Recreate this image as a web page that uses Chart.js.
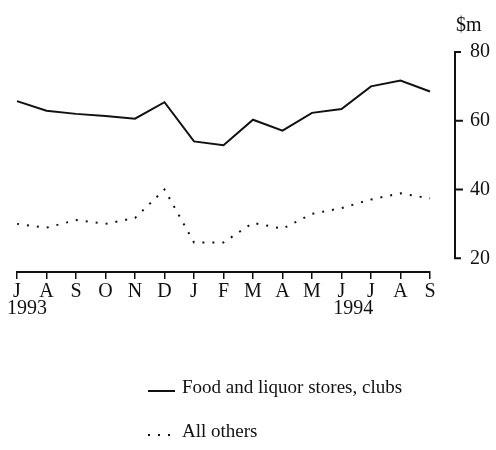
<!DOCTYPE html>
<html>
<head>
<meta charset="utf-8">
<script src="https://cdn.jsdelivr.net/npm/chart.js@4/dist/chart.umd.min.js"></script>
<style>
  html, body { margin: 0; background: #fff; }
  #wrap { width: 496px; height: 450px; position: relative; }
</style>
</head>
<body>
<div id="wrap"><canvas id="c"></canvas></div>
<script>
// Monthly sales, Jul 1993 - Sep 1994 ($m)
const MONTHS = ["J", "A", "S", "O", "N", "D", "J", "F", "M", "A", "M", "J", "J", "A", "S"];
const FOOD = [65.7, 62.9, 62.0, 61.4, 60.6, 65.4, 54.0, 52.9, 60.3, 57.1, 62.3, 63.4, 70.0, 71.7, 68.5];
const OTHERS = [30.0, 28.9, 31.1, 30.0, 31.7, 40.0, 24.6, 24.6, 30.3, 28.6, 32.9, 34.6, 37.1, 38.9, 37.4];
const Y_TICKS = [20, 40, 60, 80];
const YEARS = ["1993", "1994"];
const UNIT = "$m";

const SERIF = "'Liberation Serif', 'DejaVu Serif', serif";
const INK = "#111";

// right-hand bracket axis, year labels, unit and the stacked legend
const extras = {
  id: "extras",
  afterDraw(chart) {
    const g = chart.ctx, xs = chart.scales.x, ys = chart.scales.y;
    const ax = chart.chartArea.right + 25;
    const top = ys.getPixelForValue(80), bot = ys.getPixelForValue(20);
    g.save();
    g.strokeStyle = INK; g.lineWidth = 2; g.lineCap = "butt";
    g.beginPath();
    g.moveTo(ax + 6, top); g.lineTo(ax, top); g.lineTo(ax, bot); g.lineTo(ax + 6, bot);
    for (const v of [40, 60]) {
      const p = ys.getPixelForValue(v);
      g.moveTo(ax, p); g.lineTo(ax + 8, p);
    }
    g.stroke();

    g.fillStyle = INK;
    g.font = `20px ${SERIF}`;
    g.textBaseline = "middle";
    g.textAlign = "left";
    g.fillText(UNIT, ax + 1, 26);
    const yy = chart.chartArea.bottom + 37;
    g.fillText(YEARS[0], xs.getPixelForValue(0) - 10, yy);
    g.textAlign = "center";
    g.fillText(YEARS[1], (xs.getPixelForValue(11) + xs.getPixelForValue(12)) / 2 - 3, yy);

    // legend
    g.textAlign = "left";
    g.font = `19px ${SERIF}`;
    chart.data.datasets.forEach((ds, i) => {
      const ly = 388 + i * 44;
      g.setLineDash(ds.borderDash || []);
      g.lineWidth = ds.borderWidth;
      g.beginPath(); g.moveTo(148, ly + 3); g.lineTo(175, ly + 3); g.stroke();
      g.setLineDash([]);
      g.fillText(ds.label, 182, ly);
    });
    g.restore();
  }
};

new Chart(document.getElementById("c"), {
  type: "line",
  data: {
    labels: MONTHS,
    datasets: [
      { label: "Food and liquor stores, clubs", data: FOOD, borderColor: INK,
        borderWidth: 2, pointRadius: 0, tension: 0 },
      { label: "All others", data: OTHERS, borderColor: INK, borderDash: [2, 8],
        borderWidth: 2, pointRadius: 0, tension: 0 },
    ],
  },
  options: {
    responsive: true, maintainAspectRatio: false, animation: false,
    layout: { padding: { top: 48, left: 17, right: 0, bottom: 0 } },
    plugins: { legend: { display: false }, tooltip: { enabled: false } },
    scales: {
      x: {
        offset: false,
        grid: { drawOnChartArea: false, drawTicks: true, tickLength: 7, color: INK, lineWidth: 1.5 },
        border: { display: true, color: INK, width: 2 },
        ticks: { color: INK, font: { family: SERIF, size: 20 }, padding: 1, maxRotation: 0, autoSkip: false },
        afterFit: (s) => { s.height = 450 - 48 - 224; },
      },
      y: {
        position: "right", min: 16, max: 80,
        grid: { display: false, drawTicks: false },
        border: { display: false },
        ticks: { color: INK, font: { family: SERIF, size: 20 }, padding: 40 },
        afterBuildTicks: (s) => { s.ticks = Y_TICKS.map((v) => ({ value: v })); },
        afterFit: (s) => { s.width = 496 - 17 - 413; },
      },
    },
  },
  plugins: [extras],
});
</script>
</body>
</html>
